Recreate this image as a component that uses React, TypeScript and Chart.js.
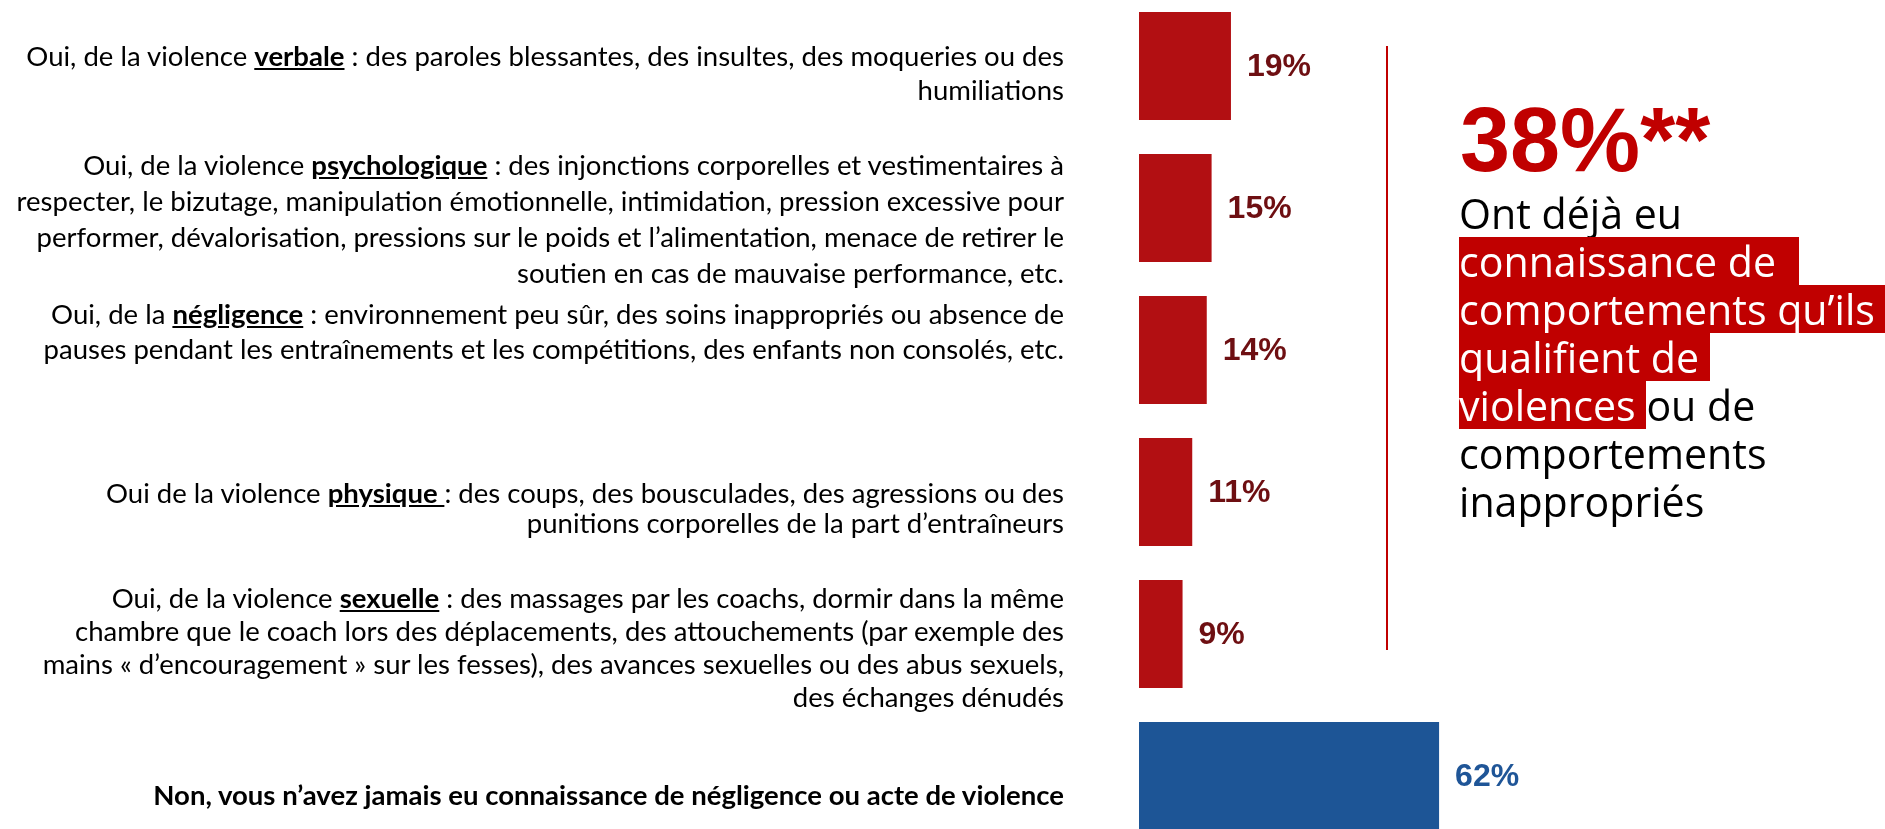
import React, { useEffect, useRef, useMemo } from 'react';
import { Chart, registerables } from 'chart.js';

Chart.register(...registerables);

// ---------- DATA ----------
const categories = [
  'Violence verbale',
  'Violence psychologique',
  'Négligence',
  'Violence physique',
  'Violence sexuelle',
  'Non, jamais',
];
const values = [19, 15, 14, 11, 9, 62];
const barColors = ['#B20F12', '#B20F12', '#B20F12', '#B20F12', '#B20F12', '#1D5596'];
const valueLabelColors = ['#6E0F12', '#6E0F12', '#6E0F12', '#6E0F12', '#6E0F12', '#1F5597'];
const valueSuffix = '%';

type Seg = { t: string; b?: boolean; u?: boolean };
// category label texts (rich segments, one array per line)
const labelLines: Seg[][][] = [
  [
    [{ t: 'Oui, de la violence ' }, { t: 'verbale', b: true, u: true }, { t: ' : des paroles blessantes, des insultes, des moqueries ou des' }],
    [{ t: 'humiliations' }],
  ],
  [
    [{ t: 'Oui, de la violence ' }, { t: 'psychologique', b: true, u: true }, { t: ' : des injonctions corporelles et vestimentaires à' }],
    [{ t: 'respecter, le bizutage, manipulation émotionnelle, intimidation, pression excessive pour' }],
    [{ t: 'performer, dévalorisation, pressions sur le poids et l’alimentation, menace de retirer le' }],
    [{ t: 'soutien en cas de mauvaise performance, etc.' }],
  ],
  [
    [{ t: 'Oui, de la ' }, { t: 'négligence', b: true, u: true }, { t: ' : environnement peu sûr, des soins inappropriés ou absence de' }],
    [{ t: 'pauses pendant les entraînements et les compétitions, des enfants non consolés, etc.' }],
  ],
  [
    [{ t: 'Oui de la violence ' }, { t: 'physique ', b: true, u: true }, { t: ': des coups, des bousculades, des agressions ou des' }],
    [{ t: 'punitions corporelles de la part d’entraîneurs' }],
  ],
  [
    [{ t: 'Oui, de la violence ' }, { t: 'sexuelle', b: true, u: true }, { t: ' : des massages par les coachs, dormir dans la même' }],
    [{ t: 'chambre que le coach lors des déplacements, des attouchements (par exemple des' }],
    [{ t: 'mains « d’encouragement » sur les fesses), des avances sexuelles ou des abus sexuels,' }],
    [{ t: 'des échanges dénudés' }],
  ],
  [
    [{ t: 'Non, vous n’avez jamais eu connaissance de négligence ou acte de violence', b: true }],
  ],
];

const headline = '38%**';
type PSeg = { t: string; hl?: boolean; pad?: number };
const panelLines: PSeg[][] = [
  [{ t: 'Ont déjà eu' }],
  [{ t: 'connaissance de ', hl: true, pad: 12 }],
  [{ t: 'comportements qu’ils ', hl: true, pad: 40 }],
  [{ t: 'qualifient de ', hl: true }],
  [{ t: 'violences ', hl: true }, { t: 'ou de' }],
  [{ t: 'comportements' }],
  [{ t: 'inappropriés' }],
];

// ---------- LAYOUT ----------
const W = 1885;
const H = 829;
const labelRight = 1064;
const labelCenters = [73, 219, 331, 508, 647, 795];
const labelLineHeights = [34, 36, 35, 30, 33, 34];
const LEFT_FONT = 'Lato, Carlito, "Liberation Sans", sans-serif';
const PANEL_FONT = '"Open Sans", "DejaVu Sans", sans-serif';
const RED = '#C00000';

function fitSize(text: string, font: (s: number) => string, target: number) {
  const ctx = document.createElement('canvas').getContext('2d');
  if (!ctx) return 24;
  ctx.font = font(100);
  const w = ctx.measureText(text).width;
  return (100 * target) / w;
}

const valueLabelPlugin = {
  id: 'valueLabels',
  afterDatasetsDraw(chart: any) {
    const ctx = chart.ctx;
    const meta = chart.getDatasetMeta(0);
    meta.data.forEach((bar: any, i: number) => {
      ctx.save();
      ctx.font = 'bold 32px "Liberation Sans", Arial, sans-serif';
      ctx.fillStyle = valueLabelColors[i];
      ctx.textAlign = 'left';
      ctx.textBaseline = 'middle';
      ctx.fillText(values[i] + valueSuffix, bar.x + 16, bar.y + 1);
      ctx.restore();
    });
  },
};

export default function App() {
  const canvasRef = useRef<HTMLCanvasElement | null>(null);

  const leftSize = useMemo(
    () =>
      fitSize(
        'respecter, le bizutage, manipulation émotionnelle, intimidation, pression excessive pour',
        (s) => `400 ${s}px ${LEFT_FONT}`,
        1048
      ),
    []
  );
  const panelSize = useMemo(
    () => fitSize('comportements qu’ils', (s) => `400 ${s}px ${PANEL_FONT}`, 416),
    []
  );

  useEffect(() => {
    const canvas = canvasRef.current;
    if (!canvas) return;
    const chart = new Chart(canvas, {
      type: 'bar',
      data: {
        labels: categories,
        datasets: [
          {
            data: values,
            backgroundColor: barColors,
            borderWidth: 0,
            barPercentage: 0.76,
            categoryPercentage: 1,
          },
        ],
      },
      options: {
        indexAxis: 'y',
        responsive: false,
        maintainAspectRatio: false,
        animation: false,
        devicePixelRatio: 1,
        layout: { padding: { left: 1139, right: 262, top: 0, bottom: 0 } },
        scales: {
          x: { display: false, min: 0, max: 100 },
          y: { display: false },
        },
        plugins: {
          legend: { display: false },
          tooltip: { enabled: false },
        },
      },
      plugins: [valueLabelPlugin],
    } as any);
    return () => chart.destroy();
  }, []);

  return (
    <div
      style={{
        position: 'fixed',
        left: 0,
        top: 0,
        width: W,
        height: H,
        overflow: 'hidden',
        background: '#fff',
      }}
    >
      <canvas
        ref={canvasRef}
        width={W}
        height={852}
        style={{ position: 'absolute', left: 0, top: -5, width: W, height: 852 }}
      />

      {labelLines.map((lines, i) => (
        <div
          key={i}
          style={{
            position: 'absolute',
            right: W - labelRight,
            top: labelCenters[i],
            transform: 'translateY(-50%)',
            textAlign: 'right',
            whiteSpace: 'pre',
            fontFamily: LEFT_FONT,
            fontSize: leftSize,
            lineHeight: labelLineHeights[i] + 'px',
            color: '#000',
          }}
        >
          {lines.map((line, j) => (
            <div key={j}>
              {line.map((s, k) => (
                <span
                  key={k}
                  style={{
                    fontWeight: s.b ? 700 : 400,
                    textDecoration: s.u ? 'underline' : 'none',
                  }}
                >
                  {s.t}
                </span>
              ))}
            </div>
          ))}
        </div>
      ))}

      <div
        style={{
          position: 'absolute',
          left: 1386,
          top: 46,
          width: 2,
          height: 604,
          background: RED,
        }}
      />

      <div
        style={{
          position: 'absolute',
          left: 1460,
          top: 95,
          fontFamily: '"Liberation Sans", Arial, sans-serif',
          fontWeight: 700,
          fontSize: 90,
          lineHeight: '90px',
          color: RED,
          whiteSpace: 'pre',
        }}
      >
        {headline}
      </div>

      <div
        style={{
          position: 'absolute',
          left: 1459,
          top: 189,
          fontFamily: PANEL_FONT,
          fontWeight: 400,
          fontSize: panelSize,
          lineHeight: '48px',
          color: '#000',
          whiteSpace: 'pre',
        }}
      >
        {panelLines.map((line, i) => (
          <div key={i} style={{ height: 48 }}>
            {line.map((s, k) =>
              s.hl ? (
                <span
                  key={k}
                  style={{
                    display: 'inline-block',
                    height: 48,
                    verticalAlign: 'top',
                    background: RED,
                    color: '#fff',
                    paddingRight: s.pad || 0,
                  }}
                >
                  {s.t}
                </span>
              ) : (
                <span key={k}>{s.t}</span>
              )
            )}
          </div>
        ))}
      </div>
    </div>
  );
}
